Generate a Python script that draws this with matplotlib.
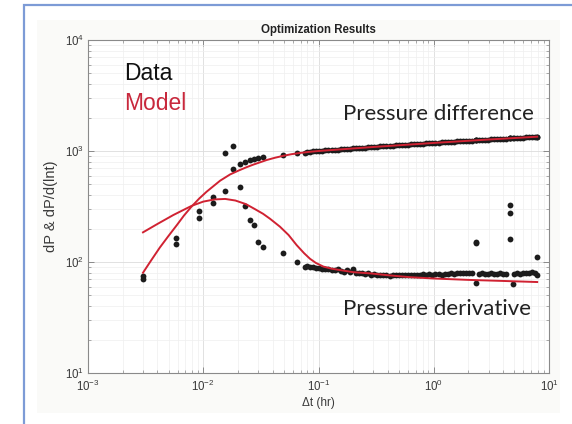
import matplotlib
matplotlib.use("Agg")
import matplotlib.pyplot as plt
from matplotlib.patches import Rectangle
from matplotlib.ticker import LogLocator, LogFormatterSciNotation, NullFormatter

plt.rcParams['font.family'] = ['Liberation Sans', 'DejaVu Sans']
plt.rcParams['mathtext.fontset'] = 'custom'
plt.rcParams['mathtext.rm'] = 'Liberation Sans'
plt.rcParams['mathtext.it'] = 'Liberation Sans:italic'
plt.rcParams['mathtext.bf'] = 'Liberation Sans:bold'

# ---- measured data: early-time points ----
early_t = [0.003, 0.0058, 0.00925, 0.0121, 0.0153, 0.018, 0.0208, 0.023,
           0.0255, 0.0275, 0.0297, 0.0333, 0.049, 0.0646, 0.0763]
early_dp = [75, 164, 288, 387, 966, 689, 764, 801,
            830, 845, 865, 889, 920, 953, 966]
early_der = [70, 145, 249, 338, 439, 1109, 477, 320,
             239, 215, 152, 137, 120, 99, 91]

# ---- measured data: late-time points ----
late_t = [0.080, 0.085, 0.090, 0.096, 0.102, 0.108, 0.115, 0.122, 0.130, 0.138,
          0.147, 0.156, 0.166, 0.176, 0.187, 0.199, 0.211, 0.225, 0.239, 0.254,
          0.270, 0.287, 0.305, 0.324, 0.345, 0.366, 0.389, 0.414, 0.440, 0.467,
          0.497, 0.528, 0.561, 0.596, 0.634, 0.673, 0.716, 0.761, 0.808, 0.859,
          0.913, 0.970, 1.03, 1.10, 1.17, 1.24, 1.32, 1.40, 1.49, 1.58,
          1.68, 1.79, 1.90, 2.02, 2.15, 2.45, 2.60, 2.77, 2.94, 3.13,
          3.32, 3.53, 3.75, 3.99, 4.24, 4.95, 5.26, 5.59, 5.94, 6.31,
          6.71, 7.13, 7.50, 7.85]
late_dp = [982, 987, 992, 997, 1002, 1006, 1011, 1016, 1021, 1025,
           1030, 1035, 1040, 1045, 1050, 1054, 1059, 1064, 1069, 1074,
           1078, 1083, 1088, 1093, 1098, 1102, 1107, 1112, 1117, 1122,
           1127, 1132, 1136, 1141, 1146, 1151, 1156, 1160, 1165, 1170,
           1175, 1180, 1184, 1189, 1194, 1199, 1204, 1209, 1213, 1218,
           1223, 1228, 1233, 1238, 1242, 1253, 1258, 1262, 1267, 1272,
           1277, 1282, 1286, 1291, 1296, 1308, 1313, 1318, 1323, 1328,
           1333, 1337, 1341, 1345]
late_der = [92, 91, 90, 89, 88, 87, 86, 87, 85, 84,
            86, 83, 82, 84, 82, 86, 80, 79, 80, 78,
            79, 77, 78, 77, 76, 77, 76, 75, 77, 76,
            76, 77, 76, 77, 77, 76, 77, 77, 78, 77,
            78, 77, 78, 78, 77, 78, 78, 79, 78, 79,
            79, 80, 79, 80, 79, 78, 79, 78, 78, 79,
            78, 78, 79, 78, 78, 78, 79, 78, 79, 79,
            80, 81, 80, 77]

# ---- points where the derivative jumps ----
spike_t = [2.31, 2.31, 2.31, 4.60, 4.60, 4.60, 4.84, 7.90]
spike_dp = [1248, 1248, 1248, 1303, 1303, 1303, 1306, 1345]
spike_der = [147, 150, 65, 327, 275, 160, 63, 110]

# ---- fitted model curves ----
model_dp_t = [0.003, 0.0035, 0.0042, 0.005, 0.0059, 0.0068, 0.0079, 0.0092,
              0.0107, 0.0123, 0.014, 0.0171, 0.0205, 0.0238, 0.027, 0.031,
              0.0356, 0.042, 0.0495, 0.058, 0.069, 0.083, 0.1, 0.3, 1.0, 3.0, 7.9]
model_dp = [80, 102, 135, 172, 215, 262, 315, 372,
            430, 484, 540, 615, 670, 715, 752, 790,
            830, 870, 905, 935, 960, 982, 1000, 1087, 1182, 1269, 1345]
model_der_t = [0.003, 0.004, 0.0055, 0.0079, 0.010, 0.0125, 0.0155, 0.019,
               0.0235, 0.028, 0.033, 0.038, 0.0463, 0.055, 0.0646, 0.075,
               0.0843, 0.095, 0.11, 0.13, 0.16, 0.2, 0.28, 0.4, 0.62, 1.0,
               2.0, 4.0, 7.9]
model_der = [185, 220, 265, 320, 350, 366, 370, 358,
             332, 300, 272, 245, 208, 175, 142, 120,
             107, 98, 91, 87, 84, 81, 79, 76, 73, 71,
             69, 67.5, 66]

W, H = 572, 424
fig = plt.figure(figsize=(W / 100, H / 100), dpi=100, facecolor='white')

# window frame and figure panel (kept behind the axes)
fig.patches.append(Rectangle((24 / W, -0.05), 1.2, 1 - 5 / H + 0.05,
                             transform=fig.transFigure, fill=False,
                             edgecolor='#7d9bd6', linewidth=1.6, zorder=-2))
fig.patches.append(Rectangle((37 / W, 1 - 413 / H), (560 - 37) / W, (413 - 20) / H,
                             transform=fig.transFigure, facecolor='#fafaf8',
                             edgecolor='none', zorder=-2))

ax = fig.add_axes([88 / W, 1 - 373 / H, (549 - 88) / W, (373 - 40) / H], zorder=2)
ax.set_xscale('log')
ax.set_yscale('log')
ax.set_xlim(1e-3, 1e1)
ax.set_ylim(1e1, 1e4)

ax.grid(True, which='major', color='#dcdcdc', linewidth=0.6)
ax.grid(True, which='minor', color='#efefef', linewidth=0.5)
ax.set_axisbelow(True)

mk = dict(linestyle='none', marker='o', markersize=4.2, color='#1c1c1c',
          markeredgewidth=0, zorder=3)
ax.plot(early_t, early_dp, **mk)
ax.plot(early_t, early_der, **mk)
ax.plot(late_t, late_dp, **mk)
ax.plot(late_t, late_der, **mk)
ax.plot(spike_t, spike_dp, **mk)
ax.plot(spike_t, spike_der, **mk)

red = '#d02232'
ax.plot(model_dp_t, model_dp, color=red, linewidth=1.4, zorder=4,
        solid_joinstyle='round')
ax.plot(model_der_t, model_der, color=red, linewidth=1.4, zorder=4,
        solid_joinstyle='round')

for s in ax.spines.values():
    s.set_color('#8a8a8a')
    s.set_linewidth(0.8)

ax.xaxis.set_major_locator(LogLocator(base=10, numticks=10))
ax.yaxis.set_major_locator(LogLocator(base=10, numticks=10))
ax.xaxis.set_minor_locator(LogLocator(base=10, subs=range(2, 10), numticks=20))
ax.yaxis.set_minor_locator(LogLocator(base=10, subs=range(2, 10), numticks=20))
ax.xaxis.set_major_formatter(LogFormatterSciNotation())
ax.yaxis.set_major_formatter(LogFormatterSciNotation())
ax.xaxis.set_minor_formatter(NullFormatter())
ax.yaxis.set_minor_formatter(NullFormatter())
ax.tick_params(which='both', direction='in', top=True, right=True,
               color='#8a8a8a', labelcolor='#3a3a3a', labelsize=8.3)
ax.tick_params(which='major', length=4, width=0.7)
ax.tick_params(which='minor', length=2, width=0.5)
ax.tick_params(axis='x', pad=4)
ax.tick_params(axis='y', pad=3)

ax.set_title('Optimization Results', fontsize=8.3, fontweight='bold',
             color='#222222', pad=5)
ax.set_xlabel('\u0394t (hr)', fontsize=8.5, color='#3a3a3a', labelpad=2)
ax.set_ylabel('dP & dP/d(lnt)', fontsize=10.5, color='#3a3a3a', labelpad=5)

fig.text(124 / W, 1 - 73 / H, 'Data', fontsize=16.5, color='#111111',
         ha='left', va='center', zorder=5)
fig.text(124 / W, 1 - 104 / H, 'Model', fontsize=16.5, color='#c8283c',
         ha='left', va='center', zorder=5)
fig.text(343 / W, 1 - 114 / H, 'Pressure difference', fontsize=16,
         family=['Lato', 'DejaVu Sans'], color='#222222', ha='left', va='center',
         zorder=5)
fig.text(343 / W, 1 - 309 / H, 'Pressure derivative', fontsize=16,
         family=['Lato', 'DejaVu Sans'], color='#222222', ha='left', va='center',
         zorder=5)

fig.savefig('out.png', dpi=100, facecolor='white')
